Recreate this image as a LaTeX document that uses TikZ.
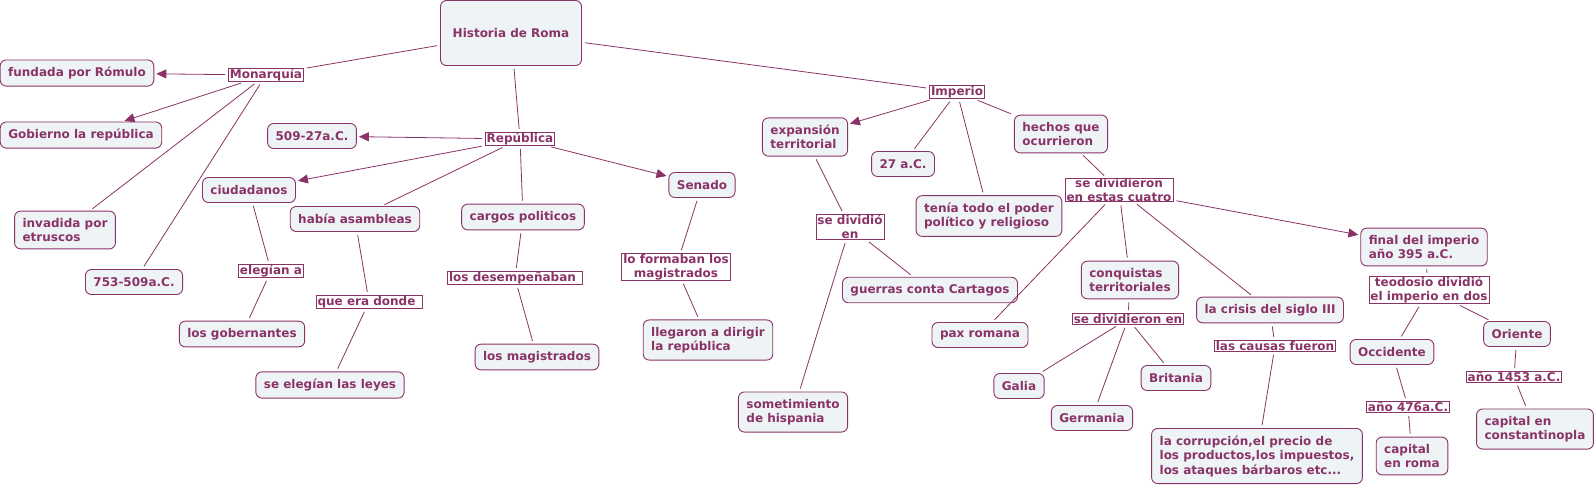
\documentclass[tikz,border=0pt]{standalone}
\usepackage{fontspec}
\setmainfont{DejaVu Sans}
\usetikzlibrary{arrows.meta}
\definecolor{cm}{HTML}{8A3367}
\definecolor{cfill}{HTML}{EEF3F6}
\begin{document}
\begin{tikzpicture}[x=1pt,y=-1pt,
  txt/.style={text=cm, font=\fontsize{12}{14.5}\selectfont\bfseries},
  concept/.style={txt, draw=cm, fill=cfill, rounded corners=6pt, line width=0.9pt, align=left, inner xsep=8pt, inner ysep=7pt, minimum height=25pt},
  lp/.style={txt, draw=cm, fill=white, line width=0.8pt, align=center, inner xsep=1.5pt, inner ysep=1pt, text height=9pt, text depth=2.5pt},
  lp2/.style={txt, draw=cm, fill=white, line width=0.8pt, align=center, inner xsep=1.5pt, inner ysep=0.5pt},
  lpt/.style={lp, text height=8.5pt, text depth=0.5pt, inner ysep=1pt},
  conn/.style={draw=cm, line width=0.8pt, shorten <=3pt, shorten >=3pt},
  arr/.style={conn, -{Triangle[length=10pt,width=9pt]}, shorten >=2pt}
]
\useasboundingbox[fill=white] (0,0) rectangle (1596,488);

\node[concept, minimum width=141pt, minimum height=65pt, align=center] (H) at (511,33) {Historia de Roma};

\node[lp] (mon) at (266,75) {Monarquía};
\node[concept] (fund) at (77,73) {fundada por Rómulo};
\node[concept] (gob) at (81,135) {Gobierno la república};
\node[concept] (inv) at (65,230) {invadida por\\etruscos};
\node[concept] (c753) at (134,282) {753-509a.C.};

\node[lp] (rep) at (520,139) {República};
\node[concept] (c509) at (312,136) {509-27a.C.};
\node[concept] (ciud) at (249,190) {ciudadanos};
\node[concept] (asam) at (355,219) {había asambleas};
\node[lp] (eleg) at (271,271) {elegían a};
\node[concept] (gobern) at (242,334) {los gobernantes};
\node[lp] (donde) at (369,302) {que era donde\hspace{5pt}};
\node[concept] (leyes) at (330,385) {se elegían las leyes};
\node[concept] (cargos) at (523,217) {cargos politicos};
\node[lp] (desemp) at (515,278) {los desempeñaban\hspace{5pt}};
\node[concept] (magis) at (537,357) {los magistrados};
\node[concept] (senado) at (702,185) {Senado};
\node[lp2] (form) at (676,267) {lo formaban los\\magistrados};
\node[concept] (dirig) at (708,340) {llegaron a dirigir\\la república};

\node[lp] (imp) at (957,92) {Imperio};
\node[concept] (expan) at (805,137) {expansión\\territorial};
\node[concept] (c27) at (903,164) {27 a.C.};
\node[concept] (tenia) at (989,216) {tenía todo el poder\\político y religioso};
\node[concept] (hechos) at (1061,134) {hechos que\\ocurrieron};
\node[lp2] (sdv) at (850,227) {se dividió\\en};
\node[concept] (guerras) at (930,290) {guerras conta Cartagos};
\node[concept] (somet) at (793,412) {sometimiento\\de hispania};
\node[lp2, inner ysep=0pt] (cuatro) at (1119,190) {se dividieron\\en estas cuatro};
\node[concept] (pax) at (980,335) {pax romana};
\node[concept] (conq) at (1130,280) {conquistas\\territoriales};
\node[lpt] (sden) at (1128,319) {se dividieron en};
\node[concept] (galia) at (1019,386) {Galia};
\node[concept] (germ) at (1092,418) {Germania};
\node[concept] (brit) at (1176,378) {Britania};
\node[concept] (crisis) at (1270,310) {la crisis del siglo III};
\node[lpt] (causas) at (1275,346) {las causas fueron};
\node[concept] (corr) at (1257,456) {la corrupción,el precio de\\los productos,los impuestos,\\los ataques bárbaros etc...};
\node[concept] (final) at (1424,247) {final del imperio\\año 395 a.C.};
\node[lp2] (teod) at (1429,290) {teodosio dividió\\el imperio en dos};
\node[concept] (occ) at (1392,352) {Occidente};
\node[concept] (ori) at (1517,334) {Oriente};
\node[lpt] (a476) at (1408,407) {año 476a.C.};
\node[lpt] (a1453) at (1514,377) {año 1453 a.C.};
\node[concept] (roma) at (1412,456) {capital\\en roma};
\node[concept] (const) at (1535,429) {capital en\\constantinopla};

\draw[conn] (H) -- (mon);
\draw[arr] (mon) -- (fund);
\draw[arr] (mon) -- (gob);
\draw[conn] (mon) -- (inv);
\draw[conn] (mon) -- (c753);

\draw[conn] (H) -- (rep);
\draw[arr] (rep) -- (c509);
\draw[arr] (rep) -- (ciud);
\draw[conn] (rep) -- (asam);
\draw[conn] (rep) -- (cargos);
\draw[arr] (rep) -- (senado);
\draw[conn] (ciud) -- (eleg);
\draw[conn] (eleg) -- (gobern);
\draw[conn] (asam) -- (donde);
\draw[conn] (donde) -- (leyes);
\draw[conn] (cargos) -- (desemp);
\draw[conn] (desemp) -- (magis);
\draw[conn] (senado) -- (form);
\draw[conn] (form) -- (dirig);

\draw[conn] (H) -- (imp);
\draw[arr] (imp) -- (expan);
\draw[conn] (imp) -- (c27);
\draw[conn] (imp) -- (tenia);
\draw[conn] (imp) -- (hechos);
\draw[conn] (expan) -- (sdv);
\draw[conn] (sdv) -- (guerras);
\draw[conn] (sdv) -- (somet);
\draw[conn] (hechos) -- (cuatro);
\draw[conn] (cuatro) -- (pax);
\draw[conn] (cuatro) -- (conq);
\draw[conn] (cuatro) -- (crisis);
\draw[arr] (cuatro) -- (final);
\draw[conn] (conq) -- (sden);
\draw[conn] (sden) -- (galia);
\draw[conn] (sden) -- (germ);
\draw[conn] (sden) -- (brit);
\draw[conn] (crisis) -- (causas);
\draw[conn] (causas) -- (corr);
\draw[conn] (final) -- (teod);
\draw[conn] (teod) -- (occ);
\draw[conn] (teod) -- (ori);
\draw[conn] (occ) -- (a476);
\draw[conn] (a476) -- (roma);
\draw[conn] (ori) -- (a1453);
\draw[conn] (a1453) -- (const);
\end{tikzpicture}
\end{document}
